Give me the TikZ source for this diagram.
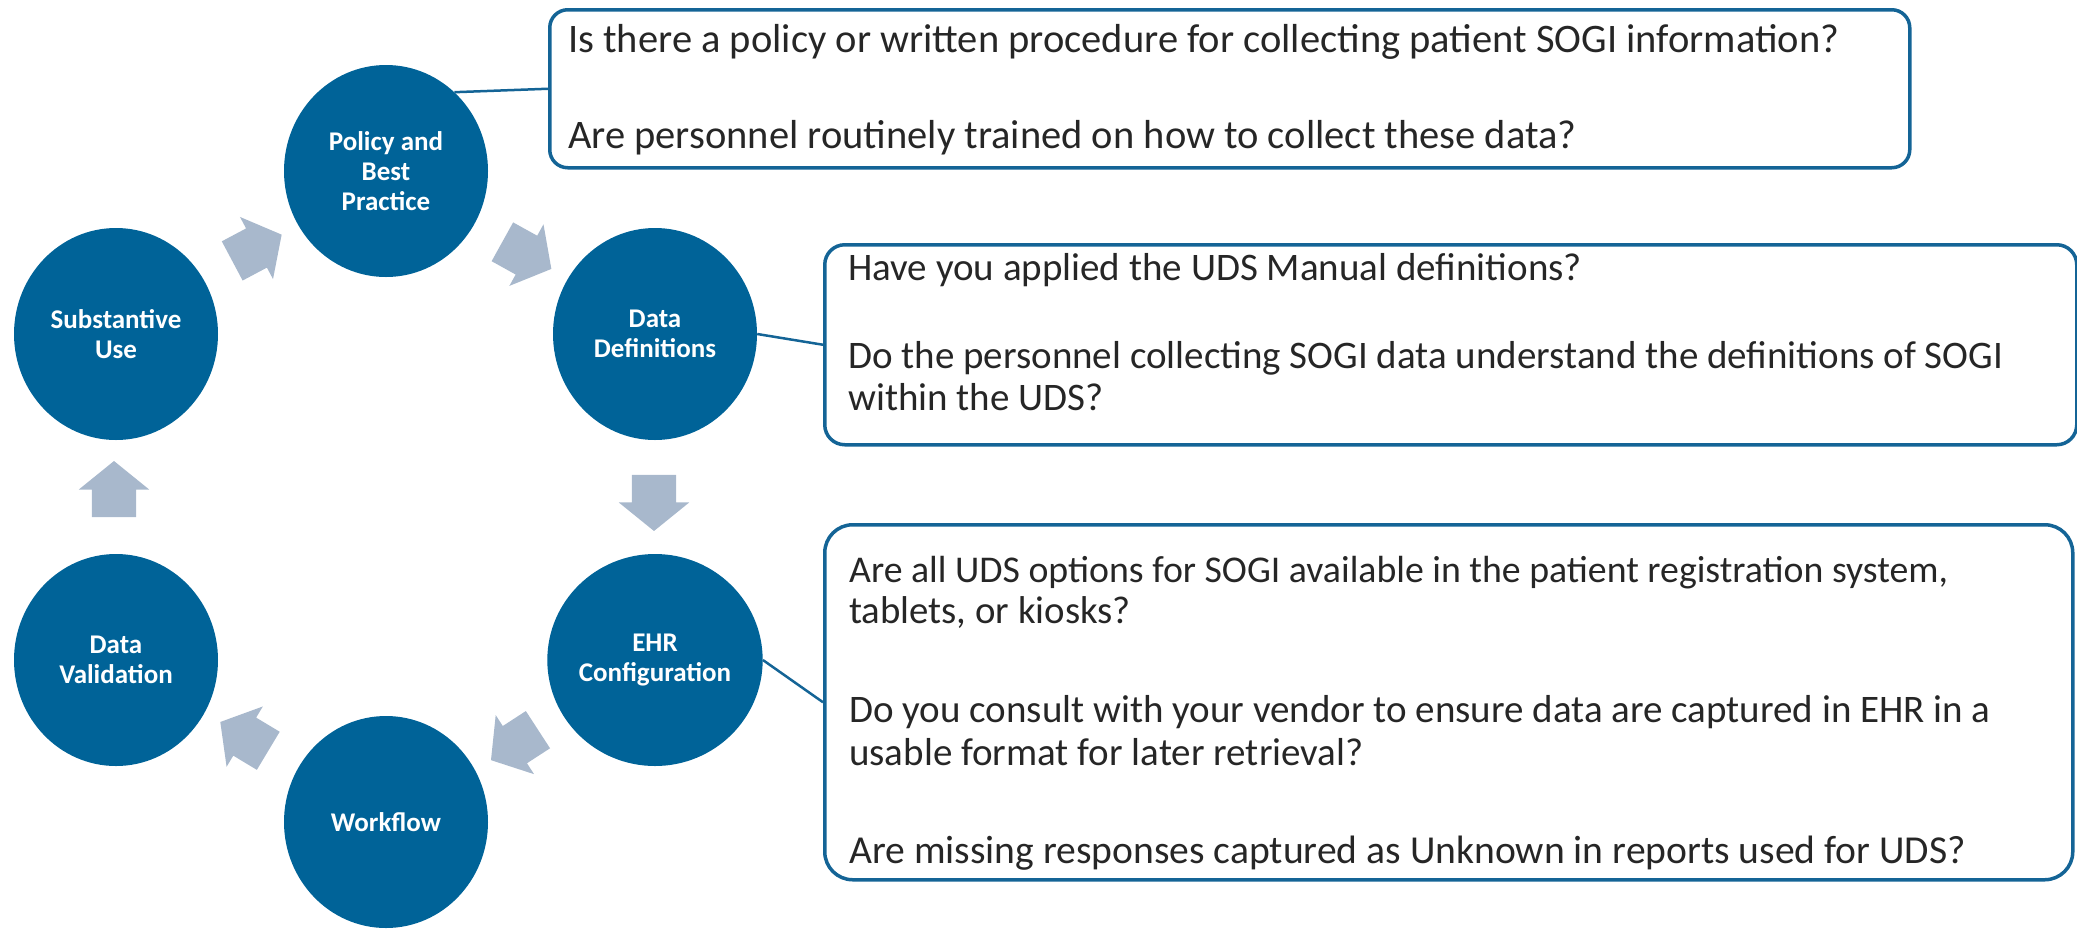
\documentclass[tikz,border=0pt]{standalone}
\usepackage{fontspec}
\setmainfont{Carlito}
\usetikzlibrary{shapes.geometric,shapes.arrows}
\definecolor{cblue}{RGB}{0,99,152}
\definecolor{aclr}{RGB}{168,184,204}
\definecolor{bclr}{RGB}{20,100,150}
\begin{document}
\begin{tikzpicture}[x=1pt,y=-1pt,
 stage/.style={ellipse, fill=cblue, minimum width=204pt, minimum height=212pt, inner sep=0pt, text=white, font=\fontsize{27}{30}\selectfont\bfseries, align=center},
 blockarrow/.style={single arrow, fill=aclr, draw=none, minimum height=56pt, minimum width=70pt, single arrow head extend=13pt, single arrow tip angle=102, inner xsep=0pt, inner ysep=22pt},
 qbox/.style={draw=bclr, line width=3.5pt, anchor=north west, inner sep=0pt},
 qtext/.style={anchor=base west, font=\fontsize{#1}{44}\selectfont, text=black!85, inner sep=0pt},
 link/.style={draw=bclr, line width=2.5pt}]
\useasboundingbox (0,0) rectangle (2077,930);
% stages
\node[stage] (pol) at (386,171) {Policy and\\Best\\Practice};
\node[stage] (dd)  at (655,334) {Data\\Definitions};
\node[stage] (ehr) at (655,660) {EHR\\Configuration};
\node[stage] (wf)  at (386,822) {Workflow};
\node[stage] (dv)  at (116,660) {Data\\Validation};
\node[stage] (su)  at (116,334) {Substantive\\Use};
% cycle arrows
\node[blockarrow, rotate=28]  (a1) at (249,252) {};
\node[blockarrow, rotate=-29] (a2) at (519,251) {};
\node[blockarrow, rotate=-90] (a3) at (654,494) {};
\node[blockarrow, rotate=213] (a4) at (522,740) {};
\node[blockarrow, rotate=149] (a5) at (252,741) {};
\node[blockarrow, rotate=90]  (a6) at (114,498) {};
% question boxes
\node[qbox, rounded corners=18pt, minimum width=1360pt, minimum height=158pt] (b1) at (548,8) {};
\node[qbox, rounded corners=20pt, minimum width=1252pt, minimum height=200pt] (b2) at (823,243) {};
\node[qbox, rounded corners=28pt, minimum width=1248pt, minimum height=355pt] (b3) at (823,523) {};
% links
\draw[link] (pol.49) -- (b1.west);
\draw[link] (dd.east) -- (b2.west);
\draw[link] (ehr.east) -- (b3.west);
% texts
\node[qtext=40.5] (t11) at (568,52) {Is there a policy or written procedure for collecting patient SOGI information?};
\node[qtext=40.5] (t12) at (568,148) {Are personnel routinely trained on how to collect these data?};
\node[qtext=39] (t21) at (848,280) {Have you applied the UDS Manual definitions?};
\node[qtext=39] (t22) at (848,368) {Do the personnel collecting SOGI data understand the definitions of SOGI};
\node[qtext=39] (t23) at (848,410) {within the UDS?};
\node[qtext=37.8] (t31) at (849,582) {Are all UDS options for SOGI available in the patient registration system,};
\node[qtext=38.8] (t32) at (849,623) {tablets, or kiosks?};
\node[qtext=39] (t33) at (849,722) {Do you consult with your vendor to ensure data are captured in EHR in a};
\node[qtext=39] (t34) at (849,765) {usable format for later retrieval?};
\node[qtext=39.6] (t35) at (849,863) {Are missing responses captured as Unknown in reports used for UDS?};
\end{tikzpicture}
\end{document}
